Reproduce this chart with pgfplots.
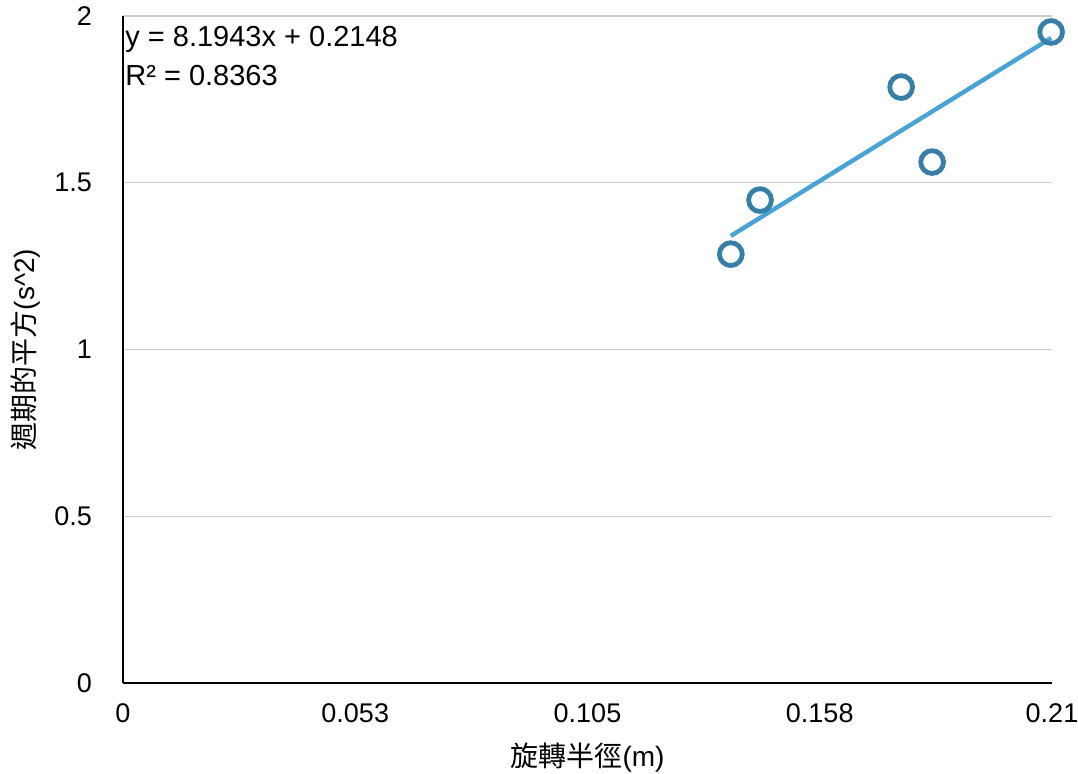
\documentclass[border=0pt]{standalone}
\usepackage{fontspec}
\setmainfont{Liberation Sans}
\newfontfamily\cjk{Noto Sans CJK TC}
\usepackage{pgfplots}
\pgfplotsset{compat=1.18}
\definecolor{markc}{HTML}{357FA8}
\definecolor{linec}{HTML}{4AA3D6}
\definecolor{gridc}{HTML}{CCCCCC}
\begin{document}
\begin{tikzpicture}
\begin{axis}[
  scale only axis,
  width=464.5pt, height=333.5pt,
  xmin=0, xmax=0.21, ymin=0, ymax=2,
  axis x line=bottom, axis y line=left,
  axis line style={black, line width=1pt, -},
  xtick={0,0.0525,0.105,0.1575,0.21},
  xticklabels={0,0.053,0.105,0.158,0.21},
  ytick={0,0.5,1,1.5,2},
  yticklabels={0,0.5,1,1.5,2},
  major tick length=0pt,
  ymajorgrids,
  grid style={gridc, line width=0.6pt},
  tick label style={font=\fontsize{13.5}{16}\selectfont},
  /pgf/number format/assume math mode=true,
  xticklabel style={yshift=-7pt},
  yticklabel style={xshift=-12pt},
  xlabel={{\cjk 旋轉半徑}(m)},
  ylabel={{\cjk 週期的平方}(s\^{}2)},
  label style={font=\fontsize{14}{17}\selectfont},
  xlabel style={yshift=-3pt},
  ylabel style={yshift=0pt},
  clip=false,
]
\addplot[only marks, mark=o, mark size=5.7pt, mark options={draw=markc, line width=2.4pt, fill=white}]
  coordinates {(0.1374,1.286) (0.1440,1.448) (0.1759,1.787) (0.1829,1.562) (0.2098,1.952)};
\addplot[linec, line width=2.2pt] coordinates {(0.1374,1.3407) (0.2098,1.9340)};
\node[anchor=north west, inner sep=0pt, align=left, font=\fontsize{14.5}{19.5}\selectfont]
  at (axis cs:0,2) [xshift=1pt, yshift=-5pt] {y = 8.1943x + 0.2148\\R² = 0.8363};
\end{axis}
\pgfresetboundingbox
\path[use as bounding box] ([xshift=-61.5pt,yshift=-45pt]current axis.south west) rectangle ([xshift=13pt,yshift=8pt]current axis.north east);
\end{tikzpicture}
\end{document}
